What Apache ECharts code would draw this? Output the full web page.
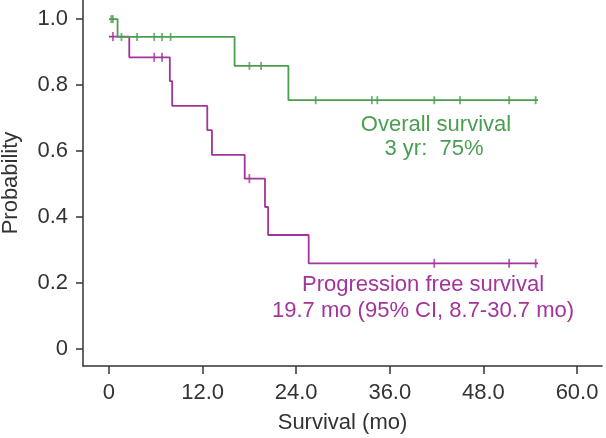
<!DOCTYPE html>
<html>
<head>
<meta charset="utf-8">
<script src="https://cdn.jsdelivr.net/npm/echarts@6/dist/echarts.min.js"></script>
<style>
html,body{margin:0;padding:0;background:#fff;}
#chart{width:606px;height:438px;}
</style>
</head>
<body>
<div id="chart"></div>
<script>
// ---- data ----
var osTimes = [0, 1.1, 16.1, 23.0, 55.0];
var osSurv = [1.0, 0.946, 0.858, 0.754, 0.754];
var osCensorTimes = [0.3, 0.5, 1.6, 3.6, 5.8, 6.8, 7.9, 18.0, 19.5, 26.5, 33.7, 34.4, 41.7, 45.0, 51.3, 54.7];

var pfsTimes = [0, 2.6, 7.8, 8.1, 12.6, 13.2, 17.4, 20.0, 20.4, 25.6, 55.0];
var pfsSurv = [0.947, 0.884, 0.812, 0.737, 0.663, 0.588, 0.516, 0.43, 0.345, 0.259, 0.259];
var pfsCensorTimes = [0.5, 5.8, 6.8, 18.0, 41.7, 51.3, 54.7];

var xTicks = [0, 12, 24, 36, 48, 60];
var xTickLabels = ['0', '12.0', '24.0', '36.0', '48.0', '60.0'];
var yTicks = [0, 0.2, 0.4, 0.6, 0.8, 1.0];
var yTickLabels = ['0', '0.2', '0.4', '0.6', '0.8', '1.0'];

var osLabel = ['Overall survival', '3 yr:  75%'];
var pfsLabel = ['Progression free survival', '19.7 mo (95% CI, 8.7-30.7 mo)'];

// ---- helpers ----
function zip(a, b) { return a.map(function (v, i) { return [v, b[i]]; }); }
function survAt(times, surv, t) {
  var s = surv[0];
  for (var i = 0; i < times.length; i++) { if (times[i] <= t) s = surv[i]; }
  return s;
}
function censorPts(ct, times, surv) { return ct.map(function (t) { return [t, survAt(times, surv, t)]; }); }

var GREEN = '#4a9e50';
var MAGENTA = '#a3349c';
var FONT = '"Liberation Sans", Arial, sans-serif';
var AX = '#333';

var chart = echarts.init(document.getElementById('chart'), null, {renderer: 'canvas'});
chart.setOption({
  animation: false,
  backgroundColor: '#fff',
  grid: {left: 83, right: 4, top: 0, bottom: 72, containLabel: false, outerBoundsMode: 'none'},
  xAxis: {
    type: 'value', min: -3.33, max: 63.2,
    name: 'Survival (mo)', nameLocation: 'middle', nameGap: 46,
    nameTextStyle: {fontFamily: FONT, fontSize: 22, color: AX},
    splitLine: {show: false},
    axisLine: {onZero: false, lineStyle: {color: AX, width: 1.5}},
    axisTick: {customValues: xTicks, length: 8, lineStyle: {color: AX, width: 1.5}},
    axisLabel: {customValues: xTicks, margin: 16, fontFamily: FONT, fontSize: 22, color: AX,
      formatter: function (v) { var i = xTicks.indexOf(v); return i >= 0 ? xTickLabels[i] : ''; }}
  },
  yAxis: {
    type: 'value', min: -0.0525, max: 1.058,
    name: 'Probability', nameLocation: 'middle', nameGap: 61, nameRotate: 90,
    nameTextStyle: {fontFamily: FONT, fontSize: 22, color: AX},
    splitLine: {show: false},
    axisLine: {onZero: false, lineStyle: {color: AX, width: 1.5}},
    axisTick: {customValues: yTicks, length: 7, lineStyle: {color: AX, width: 1.5}},
    axisLabel: {customValues: yTicks, margin: 15, fontFamily: FONT, fontSize: 22, color: AX,
      formatter: function (v) { for (var i = 0; i < yTicks.length; i++) { if (Math.abs(yTicks[i] - v) < 1e-6) return yTickLabels[i]; } return ''; }}
  },
  series: [
    {type: 'line', step: 'end', data: zip(pfsTimes, pfsSurv), symbol: 'none',
      lineStyle: {color: MAGENTA, width: 1.8}, z: 2},
    {type: 'scatter', data: censorPts(pfsCensorTimes, pfsTimes, pfsSurv), symbol: 'rect', symbolSize: [1.8, 9],
      itemStyle: {color: MAGENTA}, z: 2},
    {type: 'line', step: 'end', data: zip(osTimes, osSurv), symbol: 'none',
      lineStyle: {color: GREEN, width: 1.8}, z: 3},
    {type: 'scatter', data: censorPts(osCensorTimes, osTimes, osSurv), symbol: 'rect', symbolSize: [1.8, 8],
      itemStyle: {color: GREEN}, z: 3}
  ],
  graphic: [
    {type: 'text', x: 436, y: 125, style: {text: osLabel[0], fill: GREEN, font: '22px ' + FONT, align: 'center', verticalAlign: 'middle'}},
    {type: 'text', x: 434, y: 149.3, style: {text: osLabel[1], fill: GREEN, font: '22px ' + FONT, align: 'center', verticalAlign: 'middle'}},
    {type: 'text', x: 423, y: 285, style: {text: pfsLabel[0], fill: MAGENTA, font: '22px ' + FONT, align: 'center', verticalAlign: 'middle'}},
    {type: 'text', x: 423, y: 311, style: {text: pfsLabel[1], fill: MAGENTA, font: '22px ' + FONT, align: 'center', verticalAlign: 'middle'}}
  ]
});
</script>
</body>
</html>
